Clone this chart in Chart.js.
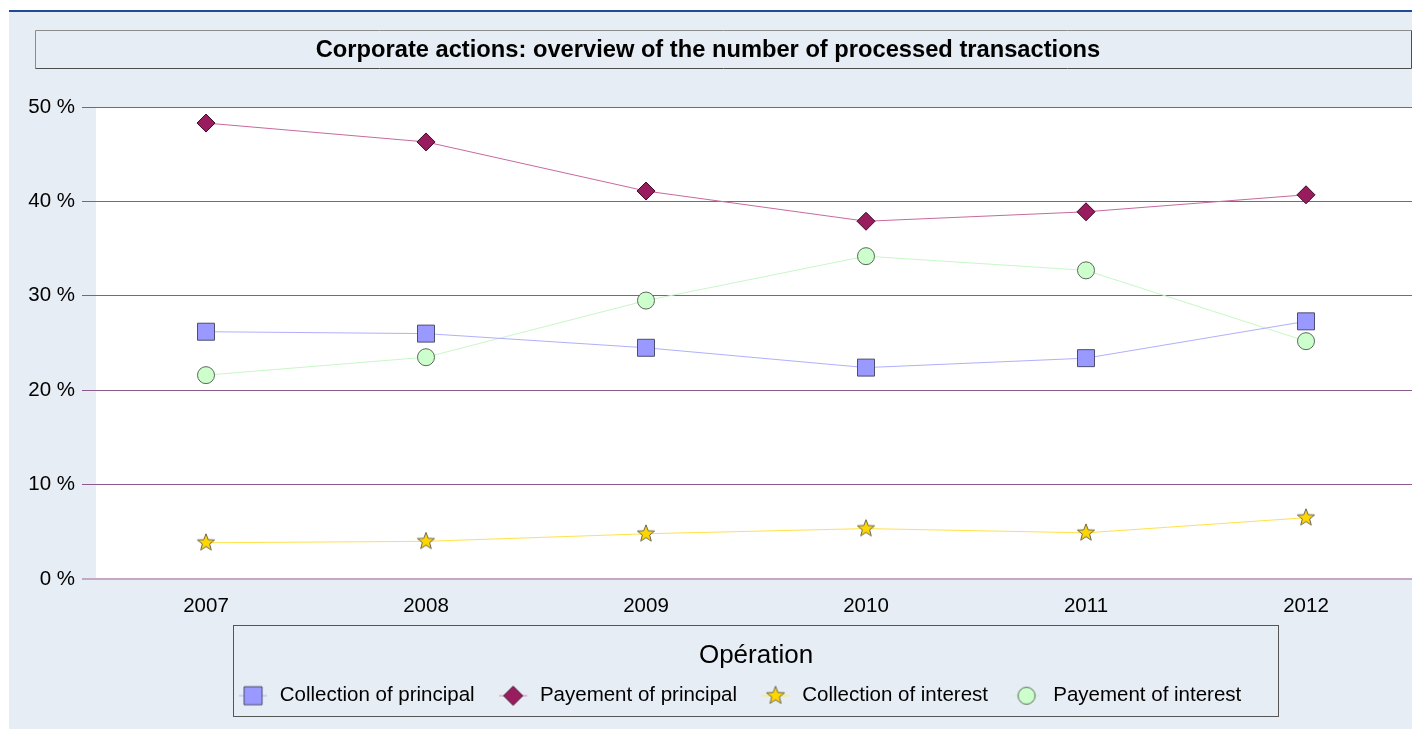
<!DOCTYPE html>
<html>
<head>
<meta charset="utf-8">
<script src="https://cdn.jsdelivr.net/npm/chart.js@4.4.0/dist/chart.umd.min.js"></script>
<style>
html, body { margin: 0; padding: 0; overflow: hidden; background: #fff; }
</style>
</head>
<body>
<canvas id="myChart" width="1447" height="729"></canvas>
<script>
const years = ['2007', '2008', '2009', '2010', '2011', '2012'];
const collectionPrincipal = [26.2, 26.0, 24.5, 22.4, 23.4, 27.3];
const payementPrincipal = [48.3, 46.3, 41.1, 37.9, 38.9, 40.7];
const collectionInterest = [3.85, 4.0, 4.8, 5.35, 4.9, 6.5];
const payementInterest = [21.6, 23.5, 29.5, 34.2, 32.7, 25.2];
const yTicks = [0, 10, 20, 30, 40, 50];
const seriesNames = ['Collection of principal', 'Payement of principal', 'Collection of interest', 'Payement of interest'];
const chartTitle = 'Corporate actions: overview of the number of processed transactions';
const legendTitle = 'Opération';

const FONT = '"Liberation Sans", Arial, sans-serif';
const BG = '#e6edf4';

// marker drawing used for the star point and the legend icons
const drawMarker = (g, shape, cx, cy, s, fill, stroke) => {
    g.beginPath();
    if (shape === 'rect') {
        g.rect(cx - s / 2, cy - s / 2, s, s);
    } else if (shape === 'diamond') {
        g.moveTo(cx - s / 2, cy); g.lineTo(cx, cy - s / 2);
        g.lineTo(cx + s / 2, cy); g.lineTo(cx, cy + s / 2);
        g.closePath();
    } else if (shape === 'star') {
        const r = s / 2, ri = r * 0.42;
        for (let i = 0; i < 10; i++) {
            const a = -Math.PI / 2 + i * Math.PI / 5;
            const rr = i % 2 ? ri : r;
            g.lineTo(cx + rr * Math.cos(a), cy + rr * Math.sin(a));
        }
        g.closePath();
    } else {
        g.arc(cx, cy, s / 2, 0, Math.PI * 2);
    }
    g.fillStyle = fill;
    g.fill();
    g.lineWidth = 1;
    g.strokeStyle = stroke;
    g.stroke();
};

const makeStar = (size) => {
    const c = document.createElement('canvas');
    c.width = c.height = size;
    drawMarker(c.getContext('2d'), 'star', size / 2, size / 2, size - 2, '#ffd700', '#6b6450');
    return c;
};

const makeIcon = (shape, lineColor, fill, stroke, s) => {
    const c = document.createElement('canvas');
    c.width = 30; c.height = 22;
    const g = c.getContext('2d');
    g.strokeStyle = lineColor;
    g.globalAlpha = 0.6;
    g.lineWidth = 2;
    g.beginPath(); g.moveTo(1, 11); g.lineTo(29, 11); g.stroke();
    g.globalAlpha = 1;
    drawMarker(g, shape, 15, 11, s, fill, stroke);
    return c;
};

const legendIcons = [
    makeIcon('rect', '#b9b9ff', '#9999ff', '#4d4d70', 18),
    makeIcon('diamond', '#d59ab9', '#991c5f', '#3d0a26', 19),
    makeIcon('star', '#ffe866', '#ffd700', '#6b6450', 19),
    makeIcon('circle', '#c8f7c8', '#ccffcc', '#5a6a5a', 17)
];

const chromePlugin = {
    id: 'chrome',
    beforeDraw: (chart) => {
        const g = chart.ctx;
        const W = chart.width, H = chart.height;
        g.save();
        g.fillStyle = '#fff';
        g.fillRect(0, 0, W, H);
        g.fillStyle = BG;
        g.fillRect(9, 11, W - 9, H - 11);
        g.fillStyle = '#1f4a96';
        g.fillRect(9, 10, W - 9, 2);
        // title box
        g.lineWidth = 1;
        g.strokeStyle = '#8c8c8c';
        g.beginPath(); g.moveTo(35.5, 68.5); g.lineTo(35.5, 30.5); g.lineTo(W - 35.5, 30.5); g.stroke();
        g.strokeStyle = '#4d4d4d';
        g.beginPath(); g.moveTo(35.5, 68.5); g.lineTo(W - 35.5, 68.5); g.lineTo(W - 35.5, 30.5); g.stroke();
        // plot area
        const a = chart.chartArea;
        g.fillStyle = '#fff';
        g.fillRect(a.left, a.top, a.right - a.left, a.bottom - a.top);
        // legend frame
        const lg = chart.legend;
        const pad = lg.options.labels.padding;
        const lw = lg.lineWidths[0];
        const x0 = (lg.left + pad + lg.right - lw) / 2;
        const left = Math.round(x0 - 3.5) + 0.5;
        const right = Math.round(x0 + lw - 19.5) + 0.5;
        const top = Math.round(lg.top + 6) + 0.5;
        const bottom = Math.round(lg.bottom) + 0.5;
        g.strokeStyle = '#555';
        g.strokeRect(left, top, right - left, bottom - top);
        g.restore();
    }
};

const ctx = document.getElementById('myChart');
const chart = new Chart(ctx, {
    type: 'line',
    data: {
        labels: years,
        datasets: [{
            label: seriesNames[0],
            data: collectionPrincipal,
            borderColor: '#b0b0fc',
            borderWidth: 1,
            pointStyle: 'rect',
            pointRadius: 12,
            pointBackgroundColor: '#9999ff',
            pointBorderColor: '#4d4d70',
            pointBorderWidth: 1
        }, {
            label: seriesNames[1],
            data: payementPrincipal,
            borderColor: '#c76a9f',
            borderWidth: 1,
            pointStyle: 'rectRot',
            pointRadius: 9,
            pointBackgroundColor: '#991c5f',
            pointBorderColor: '#3d0a26',
            pointBorderWidth: 1
        }, {
            label: seriesNames[2],
            data: collectionInterest,
            borderColor: '#ffe24a',
            borderWidth: 1,
            pointStyle: makeStar(20),
            pointRadius: 9
        }, {
            label: seriesNames[3],
            data: payementInterest,
            borderColor: '#c8f7c8',
            borderWidth: 1,
            pointStyle: 'circle',
            pointRadius: 8.5,
            pointBackgroundColor: '#ccffcc',
            pointBorderColor: '#5a6a5a',
            pointBorderWidth: 1
        }]
    },
    options: {
        responsive: false,
        animation: false,
        events: [],
        layout: { autoPadding: false, padding: { left: 0, right: 31, top: 0, bottom: 13 } },
        scales: {
            x: {
                offset: true,
                grid: { display: false, drawTicks: false },
                border: { display: false },
                ticks: { color: '#000', padding: 15, font: { family: FONT, size: 20.5 } },
                afterFit: (s) => { s.height = 39.6; }
            },
            y: {
                min: 0,
                max: 50,
                afterBuildTicks: (s) => { s.ticks = yTicks.map(v => ({ value: v })); },
                grid: {
                    color: (c) => c.tick && c.tick.value === 0 ? '#c4a6c8' : '#8e5a8e',
                    lineWidth: (c) => c.tick && c.tick.value === 0 ? 2 : 1,
                    drawTicks: true,
                    tickLength: 14
                },
                border: { display: false },
                ticks: {
                    color: '#000',
                    padding: 7,
                    font: { family: FONT, size: 20.5 },
                    callback: (v) => v + ' %'
                },
                afterFit: (s) => { s.width = 96; }
            }
        },
        plugins: {
            title: {
                display: true,
                text: chartTitle,
                color: '#000',
                font: { family: FONT, size: 23.7, weight: 'bold', lineHeight: 1 },
                padding: { top: 38.5, bottom: 44.8 }
            },
            legend: {
                position: 'bottom',
                fullSize: false,
                align: 'center',
                title: {
                    display: true,
                    text: legendTitle,
                    color: '#000',
                    font: { family: FONT, size: 26, lineHeight: 0.8 },
                    padding: { top: 24, bottom: 0 }
                },
                labels: {
                    usePointStyle: true,
                    pointStyleWidth: 33,
                    boxHeight: 20.5,
                    padding: 22,
                    color: '#000',
                    font: { family: FONT, size: 20.5 },
                    generateLabels: (c) => Chart.defaults.plugins.legend.labels.generateLabels(c).map((item, i, arr) => ({
                        ...item,
                        pointStyle: legendIcons[i],
                        text: i === arr.length - 1 ? item.text + '      ' : item.text
                    }))
                }
            },
            tooltip: { enabled: false }
        }
    },
    plugins: [chromePlugin]
});
</script>
</body>
</html>
